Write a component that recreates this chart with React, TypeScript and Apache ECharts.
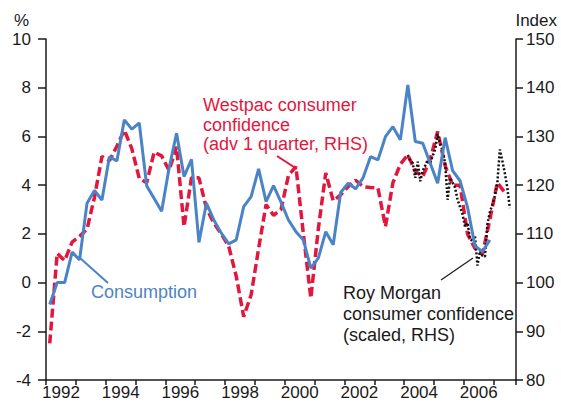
import React, { useEffect, useRef } from "react";
import * as echarts from "echarts";

// Quarterly data start (1992 Q1), plotted at mid-quarter
const startYear = 1992;

// Consumption growth, % (LHS), quarterly 1992Q1 - 2006Q4
const consumption = [
  -0.9, 0, 0, 1.25, 0.93, 3.26, 3.78, 3.39, 5.17, 4.99, 6.68, 6.3, 6.55, 3.97,
  3.45, 2.93, 4.7, 6.13, 4.35, 5.06, 1.65, 3.26, 2.57, 2.03, 1.59, 1.75, 3.12,
  3.53, 4.67, 3.32, 3.98, 3.3, 2.57, 2.09, 1.75, 0.59, 1.0, 2.09, 1.55, 3.7,
  4.08, 3.85, 4.3, 5.17, 5.04, 5.99, 6.4, 5.86, 8.11, 5.79, 5.72, 4.9, 4.08,
  5.95, 4.6, 4.18, 3.1, 1.5, 1.27, 1.75,
];

// Westpac consumer confidence, index (RHS), advanced 1 quarter, 1992Q1 - 2007Q2
const westpac = [
  87.5, 106, 104.5, 108.3, 109.5, 111, 117.5, 125.9, 125, 128, 131.3, 127.5,
  121.4, 120.5, 126.8, 126, 123, 127.9, 111.5, 121.5, 121.5, 115.3, 112.2, 110,
  107.4, 101.3, 93, 97.5, 107, 116, 113.8, 115, 122, 123.8, 110, 96.8, 111,
  122.5, 116.8, 118, 119.7, 121, 119.7, 119.5, 119.4, 111.5, 120.5, 124.3,
  126.2, 122.8, 121.8, 125.3, 131, 124, 120, 120, 110, 107, 105.8, 113, 120.5,
  118.5,
];

// Roy Morgan consumer confidence (scaled, RHS), monthly from Feb 2004
const rmStartYear = 2004;
const rmStartMonth = 2;
const royMorgan = [
  126.2, 125, 124.5, 121.5, 124.8, 120.8, 123, 124, 125.2, 124.5, 126, 127.3,
  130.5, 128.5, 127, 124.5, 117, 121.5, 120.5, 119.5, 117, 115.5, 114, 111.5,
  112.3, 109, 108.5, 109.5, 103.5, 106.5, 105.5, 105.3, 112, 114.5, 116, 117.8,
  120.5, 127.3, 125, 122.5, 119.5, 115.3,
];

const xMin = 1992;
const xMax = 2007.75;
const leftMin = -4;
const leftMax = 10;
const rightMin = 80;
const rightMax = 150;

const BLUE = "#4a84c6";
const RED = "#e2173d";
const FONT = "'Liberation Sans', Arial, sans-serif";

const qTime = (i: number) => startYear + 0.125 + 0.25 * i;
const mTime = (i: number) => rmStartYear + (rmStartMonth - 1 + i + 0.5) / 12;

export default function App() {
  const ref = useRef<HTMLDivElement>(null);
  useEffect(() => {
    if (!ref.current) return;
    const chart = echarts.init(ref.current, null, { renderer: "svg" });
    const axisColor = "#1a1a1a";
    const txt = (text: string, x: number, y: number, color: string, size: number, align = "left") => ({
      type: "text",
      x,
      y,
      silent: true,
      style: {
        text,
        fill: color,
        font: `${size}px ${FONT}`,
        align,
        verticalAlign: "middle",
      },
    });
    chart.setOption({
      animation: false,
      backgroundColor: "#ffffff",
      grid: { left: 46, right: 45, top: 39, bottom: 28, containLabel: false },
      xAxis: {
        type: "value",
        min: xMin,
        max: xMax,
        interval: 1,
        splitLine: { show: false },
        axisLine: { show: true, onZero: false, lineStyle: { color: axisColor, width: 1.5 } },
        axisTick: { show: true, length: 5, lineStyle: { color: axisColor, width: 1.5 } },
        axisLabel: {
          color: "#1a1a1a",
          fontFamily: FONT,
          fontSize: 17,
          margin: 4,
          padding: [0, 0, 0, 30],
          formatter: (v: number) => (Number.isInteger(v) && v % 2 === 0 ? String(v) : ""),
        },
      },
      yAxis: [
        {
          type: "value",
          min: leftMin,
          max: leftMax,
          interval: 2,
          position: "left",
          splitLine: { show: false },
          axisLine: { show: true, onZero: false, lineStyle: { color: axisColor, width: 1.5 } },
          axisTick: { show: true, length: 8, lineStyle: { color: axisColor, width: 1.5 } },
          axisLabel: { color: "#1a1a1a", fontFamily: FONT, fontSize: 17, margin: 15 },
        },
        {
          type: "value",
          min: rightMin,
          max: rightMax,
          interval: 10,
          position: "right",
          splitLine: { show: false },
          axisLine: { show: true, onZero: false, lineStyle: { color: axisColor, width: 1.5 } },
          axisTick: { show: true, length: 7, lineStyle: { color: axisColor, width: 1.5 } },
          axisLabel: { color: "#1a1a1a", fontFamily: FONT, fontSize: 17, margin: 10 },
        },
      ],
      series: [
        {
          name: "Westpac consumer confidence",
          type: "line",
          yAxisIndex: 1,
          data: westpac.map((v, i) => [qTime(i), v]),
          symbol: "none",
          lineStyle: { color: RED, width: 3.5, type: [9, 4] },
          z: 2,
        },
        {
          name: "Roy Morgan consumer confidence",
          type: "line",
          yAxisIndex: 1,
          data: royMorgan.map((v, i) => [mTime(i), v]),
          symbol: "none",
          lineStyle: { color: "#111111", width: 2.5, type: [2, 2] },
          z: 3,
        },
        {
          name: "Consumption",
          type: "line",
          yAxisIndex: 0,
          data: consumption.map((v, i) => [qTime(i), v]),
          symbol: "none",
          lineStyle: { color: BLUE, width: 3 },
          z: 4,
        },
      ],
      graphic: [
        txt("%", 14, 20, "#1a1a1a", 17),
        txt("Index", 557, 20, "#1a1a1a", 17, "right"),
        txt("Westpac consumer", 203, 105, RED, 18),
        txt("confidence", 203, 124.5, RED, 18),
        txt("(adv 1 quarter, RHS)", 203, 144, RED, 18),
        txt("Consumption", 91, 292, BLUE, 18),
        txt("Roy Morgan", 343, 293, "#1a1a1a", 18),
        txt("consumer confidence", 343, 314, "#1a1a1a", 18),
        txt("(scaled, RHS)", 343, 335, "#1a1a1a", 18),
        { type: "line", silent: true, shape: { x1: 277, y1: 156, x2: 297, y2: 169 }, style: { stroke: RED, lineWidth: 2 } },
        { type: "line", silent: true, shape: { x1: 80, y1: 258, x2: 108, y2: 283 }, style: { stroke: BLUE, lineWidth: 2 } },
        { type: "line", silent: true, shape: { x1: 441, y1: 280, x2: 473, y2: 258 }, style: { stroke: "#1a1a1a", lineWidth: 1.2 } },
      ],
    });
    return () => chart.dispose();
  }, []);
  return (
    <div
      ref={ref}
      style={{ position: "fixed", left: 0, top: 0, width: 561, height: 408 }}
    />
  );
}
